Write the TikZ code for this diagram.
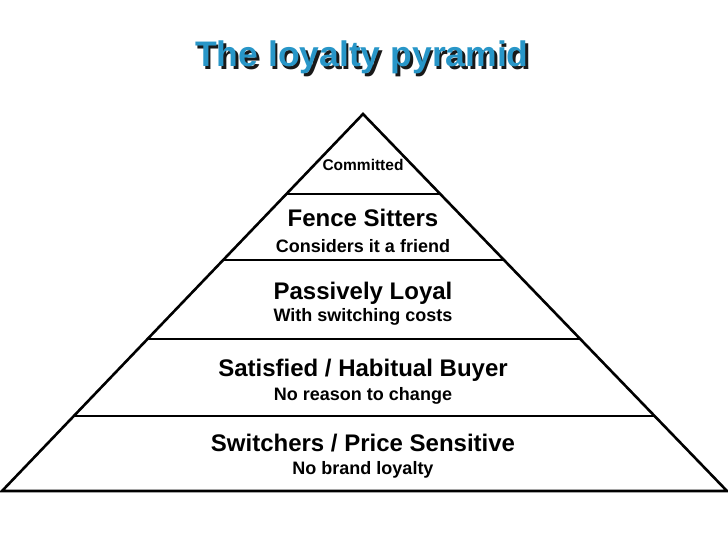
\documentclass[tikz,border=0pt]{standalone}
\usepackage{fontspec}
\setmainfont{Liberation Sans}
\usetikzlibrary{calc}
\definecolor{titleblue}{RGB}{40,150,200}
\definecolor{shadowgray}{RGB}{25,25,25}
\begin{document}
\begin{tikzpicture}[x=1pt,y=-1pt,
  edge/.style={line width=2.6pt, line join=miter},
  sep/.style={line width=2.6pt},
  big/.style={font=\bfseries\fontsize{24}{28}\selectfont, anchor=base, inner sep=0pt},
  small/.style={font=\bfseries\fontsize{18}{22}\selectfont, anchor=base, inner sep=0pt},
  tiny/.style={font=\bfseries\fontsize{15.5}{19}\selectfont, anchor=base, inner sep=0pt},
  ttl/.style={font=\bfseries\fontsize{35.5}{40}\selectfont, anchor=base, inner sep=0pt}]
\useasboundingbox (0,0) rectangle (728,546);
% title
\node[ttl, text=shadowgray] (titleshadow) at (364.5,69) {The loyalty pyramid};
\node[ttl, text=titleblue] (title) at (362,66.5) {The loyalty pyramid};
% pyramid outline
\coordinate (apex) at (363,114);
\coordinate (bl) at (2,491);
\coordinate (br) at (727,491);
\draw[edge] (bl) -- (apex) -- (br) -- cycle;
% separators
\foreach \n/\t in {a/0.2122, b/0.3873, c/0.5968, d/0.8011} {
  \coordinate (\n L) at ($(apex)!\t!(bl)$);
  \coordinate (\n R) at ($(apex)!\t!(br)$);
  \draw[sep] (\n L) -- (\n R);
}
% labels
\node[tiny] (committed) at (363,170) {Committed};
\node[big] (fence) at (363,226.5) {Fence Sitters};
\node[small] (fencesub) at (363,252.5) {Considers it a friend};
\node[big] (passive) at (363,299) {Passively Loyal};
\node[small] (passivesub) at (363,321.5) {With switching costs};
\node[big] (satisfied) at (363,376.5) {Satisfied / Habitual Buyer};
\node[small] (satisfiedsub) at (363,400) {No reason to change};
\node[big] (switchers) at (363,451.5) {Switchers / Price Sensitive};
\node[small] (switcherssub) at (363,474) {No brand loyalty};
\end{tikzpicture}
\end{document}
